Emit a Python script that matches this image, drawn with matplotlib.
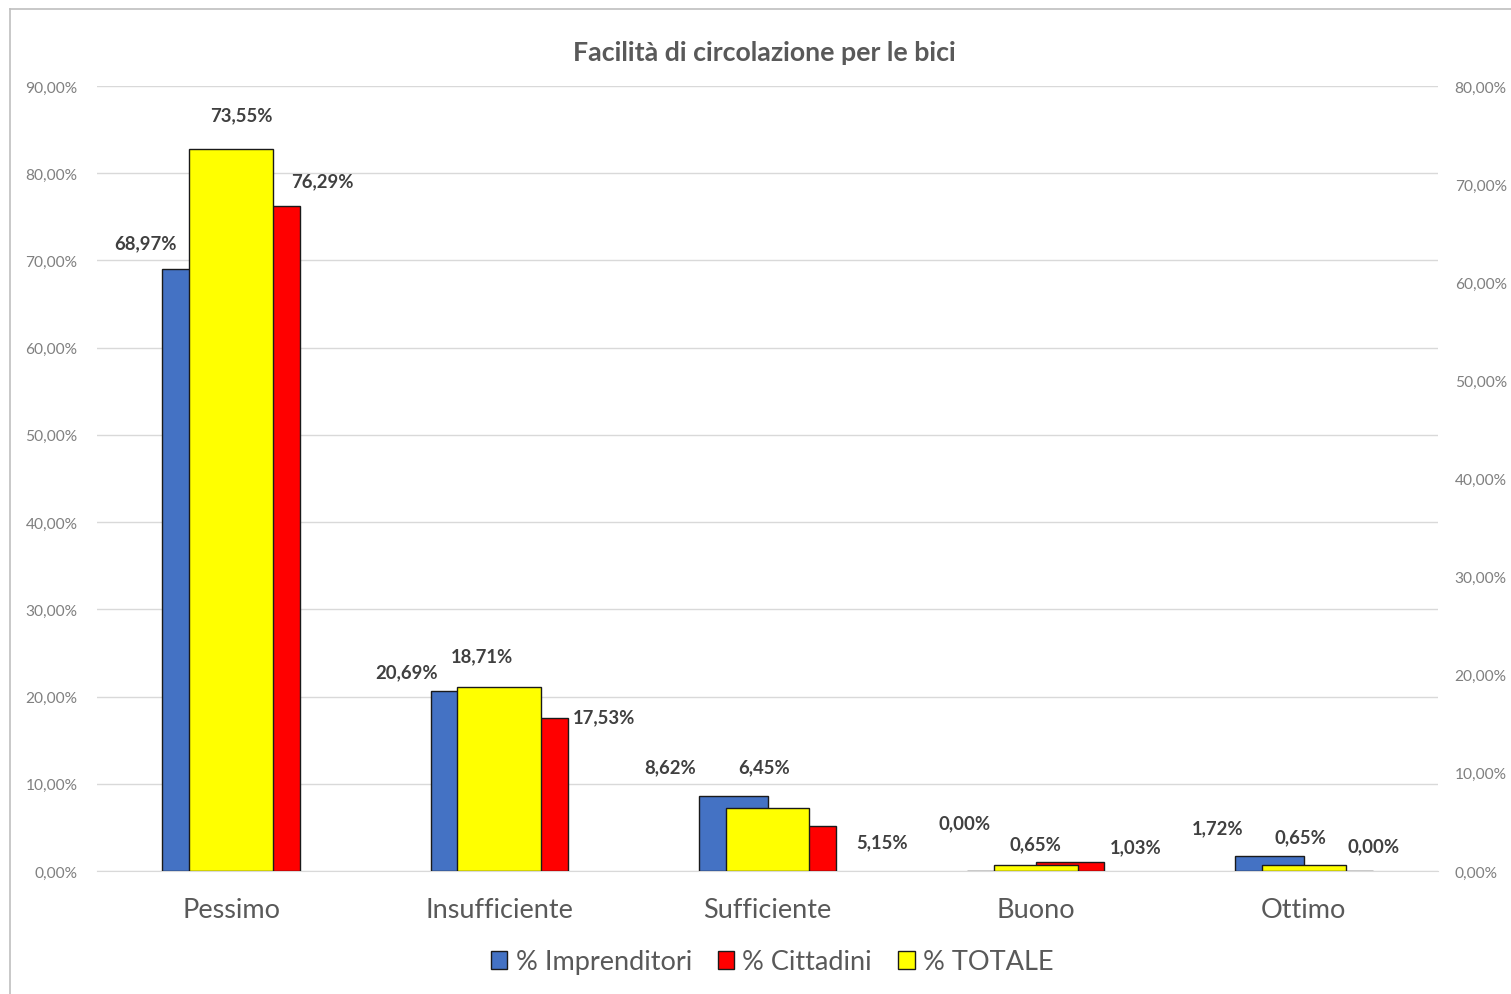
import matplotlib
matplotlib.use("Agg")
import matplotlib.pyplot as plt
from matplotlib.patches import Patch
from matplotlib.lines import Line2D
from matplotlib.ticker import FuncFormatter, MultipleLocator
import numpy as np

categories = ["Pessimo", "Insufficiente", "Sufficiente", "Buono", "Ottimo"]
imprenditori = [68.97, 20.69, 8.62, 0.00, 1.72]
cittadini = [76.29, 17.53, 5.15, 1.03, 0.00]
totale = [73.55, 18.71, 6.45, 0.65, 0.65]

# label offsets in pixels (dx, dy) from bar top centre, mimicking the reference
off_imp = [(-51, 27), (-58, 19), (-63, 29), (-37, 48), (-52, 28)]
off_cit = [(57, 25), (70, 1), (80, -16), (66, 15), (35, 25)]
off_tot = [(10, 35), (-17, 32), (-3, 41), (0, 21), (-3, 28)]

FONT = "Lato"
plt.rcParams["font.family"] = [FONT, "DejaVu Sans"]

W, H = 1511, 995
fig = plt.figure(figsize=(W / 100, H / 100), dpi=100)
fig.patch.set_facecolor("white")

ax = fig.add_axes([97 / W, 1 - 872 / H, (1438 - 97) / W, (872 - 87) / H])
ax2 = ax.twinx()

x = np.arange(len(categories))
bw = 0.256
yw = 0.313
blue = "#4472C4"
red = "#FF0000"
yellow = "#FFFF00"
edge = "#1a1a1a"

b1 = ax.bar(x - bw / 2, imprenditori, bw, color=blue, edgecolor=edge, linewidth=1.0, zorder=3)
b2 = ax.bar(x + bw / 2, cittadini, bw, color=red, edgecolor=edge, linewidth=1.0, zorder=3)
b3 = ax2.bar(x, totale, yw, color=yellow, edgecolor=edge, linewidth=1.0, zorder=3)

ax.set_xlim(-0.5, len(categories) - 0.5)
ax.set_ylim(0, 90)
ax2.set_ylim(0, 80)
ax.yaxis.set_major_locator(MultipleLocator(10))
ax2.yaxis.set_major_locator(MultipleLocator(10))
fmt = FuncFormatter(lambda v, p: f"{v:.2f}%".replace(".", ","))
ax.yaxis.set_major_formatter(fmt)
ax2.yaxis.set_major_formatter(fmt)

ax.grid(axis="y", color="#d9d9d9", linewidth=1.0, zorder=0)
ax.set_axisbelow(True)
for a in (ax, ax2):
    for s in a.spines.values():
        s.set_visible(False)
ax.spines["bottom"].set_visible(True)
ax.spines["bottom"].set_color("#d9d9d9")

ax.tick_params(axis="y", length=0, pad=14, labelsize=11.2, labelcolor="#808080")
ax2.tick_params(axis="y", length=0, pad=12, labelsize=11.2, labelcolor="#808080")
ax.set_xticks(x)
ax.set_xticklabels(categories)
ax.tick_params(axis="x", length=0, pad=19, labelsize=19.5, labelcolor="#595959")

def lab(a, xs, vals, offs):
    for xi, v, (dx, dy) in zip(xs, vals, offs):
        a.annotate(f"{v:.2f}%".replace(".", ","), (xi, v), xytext=(dx, dy),
                   textcoords="offset pixels", ha="center", va="center",
                   fontsize=13.3, fontweight="bold", color="#404040", zorder=5)

lab(ax, x - bw / 2, imprenditori, off_imp)
lab(ax, x + bw / 2, cittadini, off_cit)
lab(ax2, x, totale, off_tot)

fig.text(764 / W, 1 - 53 / H, "Facilità di circolazione per le bici", ha="center", va="center",
         fontsize=19.3, fontweight="bold", color="#595959")

handles = [Patch(facecolor=blue, edgecolor=edge, linewidth=1.0),
           Patch(facecolor=red, edgecolor=edge, linewidth=1.0),
           Patch(facecolor=yellow, edgecolor=edge, linewidth=1.0)]
leg = fig.legend(handles, ["% Imprenditori", "% Cittadini", "% TOTALE"], loc="center",
                 bbox_to_anchor=(772 / W, 1 - 963 / H), ncol=3, frameon=False,
                 fontsize=19.5, handlelength=0.62, handleheight=0.62, handletextpad=0.3,
                 columnspacing=0.95)
for t in leg.get_texts():
    t.set_color("#595959")

# outer chart border (partially visible)
fig.add_artist(Line2D([10 / W, 10 / W], [0, 1 - 10 / H], color="#bfbfbf", linewidth=1.2))
fig.add_artist(Line2D([10 / W, 1], [1 - 10 / H, 1 - 10 / H], color="#bfbfbf", linewidth=1.2))

fig.savefig("out.png", dpi=100)
